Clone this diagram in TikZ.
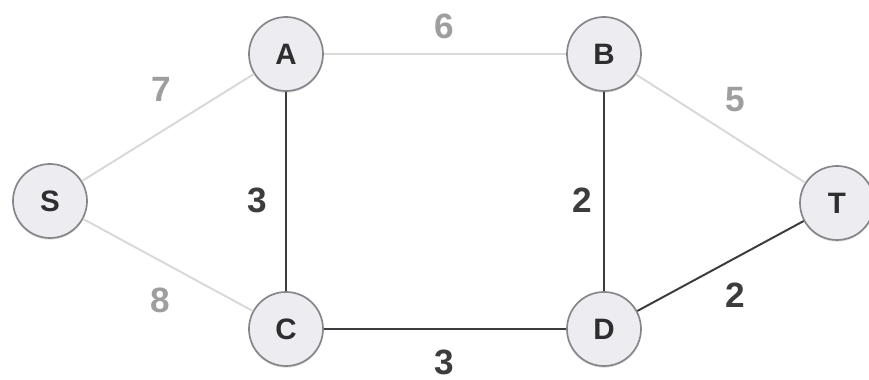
\documentclass[tikz,border=0pt]{standalone}
\usepackage{fontspec}
\setmainfont{Liberation Sans}
\usetikzlibrary{shadows}
\definecolor{vxfill}{HTML}{EDEDF1}
\definecolor{vxline}{HTML}{86868A}
\definecolor{vxink}{HTML}{2E2E30}
\definecolor{edlight}{HTML}{D9D9D9}
\definecolor{edgray}{HTML}{9E9E9E}
\definecolor{eddark}{HTML}{3C3C3E}
\tikzset{
  vx/.style={circle, draw=vxline, line width=1.2pt, fill=vxfill, minimum size=1.85cm, inner sep=0pt,
    font=\fontsize{21}{21}\selectfont\bfseries, text=vxink,
    drop shadow={opacity=0.25, shadow xshift=0pt, shadow yshift=-1.2pt}},
  lite/.style={draw=edlight, line width=1.4pt},
  dark/.style={draw=eddark, line width=1.4pt},
  wlite/.style={font=\fontsize{25}{25}\selectfont\bfseries, text=edgray},
  wdark/.style={font=\fontsize{25}{25}\selectfont\bfseries, text=eddark},
}
\begin{document}
\begin{tikzpicture}[x=0.025cm, y=0.025cm]
  \useasboundingbox[fill=white] (0,0) rectangle (869,380);
  % vertices
  \node[vx] (s) at (50,179) {S};
  \node[vx] (a) at (286,326) {A};
  \node[vx] (b) at (604,326) {B};
  \node[vx] (t) at (837,177) {T};
  \node[vx] (c) at (286,51) {C};
  \node[vx] (d) at (604,51) {D};
  % edges
  \draw[lite] (s)--(a); \draw[lite] (a)--(b); \draw[lite] (b)--(t); \draw[lite] (s)--(c);
  \draw[dark] (a)--(c); \draw[dark] (b)--(d); \draw[dark] (c)--(d); \draw[dark] (d)--(t);
  % weights
  \node[wlite] (wsa) at (161,291) {7};
  \node[wlite] (wab) at (444,354) {6};
  \node[wlite] (wbt) at (735,280) {5};
  \node[wlite] (wsc) at (160,80) {8};
  \node[wdark] (wac) at (257,180) {3};
  \node[wdark] (wbd) at (582,180) {2};
  \node[wdark] (wcd) at (444,18) {3};
  \node[wdark] (wdt) at (735,85) {2};
\end{tikzpicture}
\end{document}
